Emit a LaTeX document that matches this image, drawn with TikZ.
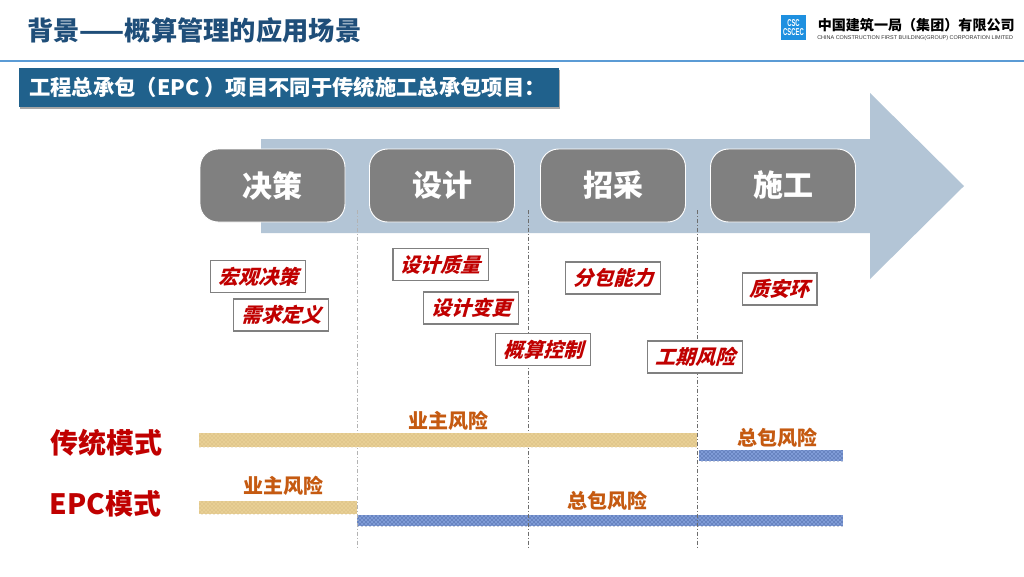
\documentclass[tikz,border=0pt]{standalone}
\usepackage{fontspec}
\usetikzlibrary{patterns}
\setmainfont{Noto Sans CJK SC}
\newfontfamily\cjksl{Noto Sans CJK SC}[FakeSlant=0.28]
\newfontfamily\latinfont{Liberation Sans}
\definecolor{titleblue}{HTML}{1F4E79}
\definecolor{bannerblue}{HTML}{20618C}
\definecolor{headerline}{HTML}{5B9BD5}
\definecolor{arrowblue}{HTML}{B3C5D6}
\definecolor{stagegray}{HTML}{808080}
\definecolor{redtxt}{HTML}{C00000}
\definecolor{risktxt}{HTML}{C55A11}
\definecolor{tanfill}{HTML}{E8CF94}
\definecolor{tandark}{HTML}{CDAE72}
\definecolor{jeanfill}{HTML}{7F9BD6}
\definecolor{jeandark}{HTML}{1F3A78}
\definecolor{logoblue}{HTML}{1E90E0}
\tikzset{
  x=0.75pt,y=-0.75pt,
  stagebox/.style={draw=white,line width=0.7pt,fill=stagegray,rounded corners=13.5pt,minimum width=108.75pt,minimum height=54.75pt,inner sep=0pt,text=white,font=\fontsize{22.5}{24}\selectfont\bfseries},
  tagbox/.style={draw=stagegray,line width=1pt,fill=white,minimum width=71.5pt,minimum height=24pt,inner sep=0pt,text=redtxt,font=\cjksl\fontsize{15}{17}\selectfont\bfseries},
  risklabel/.style={text=risktxt,inner sep=0pt,font=\fontsize{15}{17}\selectfont\bfseries},
  modelabel/.style={text=redtxt,inner sep=0pt,font=\fontsize{21}{23}\selectfont\bfseries},
  divider/.style={line width=0.7pt,dash pattern=on 3pt off 1.5pt on 0.7pt off 1.5pt},
  tanbar/.style={fill=tanfill,postaction={pattern=crosshatch dots,pattern color=tandark}},
  jeanbar/.style={fill=jeanfill,postaction={pattern=crosshatch dots,pattern color=jeandark}},
}
\begin{document}
\begin{tikzpicture}
\useasboundingbox (0,0) rectangle (1024,576);
\fill[white] (0,0) rectangle (1024,576);
% header
\node[anchor=west,inner sep=0pt,text=titleblue,font=\fontsize{19.7}{21}\selectfont\bfseries] (title) at (27,30) {背景——概算管理的应用场景};
\draw[headerline,line width=0.9pt] (0,61) -- (1024,61);
% logo
\fill[logoblue] (781,15) rectangle (806,40);
\node[inner sep=0pt,text=white,align=center,font=\latinfont\bfseries\fontsize{4.4}{7.4}\selectfont] (logo) at (793.5,27.5) {\scalebox{1}[1.7]{CSC}\\\scalebox{1}[1.7]{CSCEC}};
\node[anchor=west,inner sep=0pt,text=black,font=\fontsize{10.55}{12}\selectfont\bfseries] (company) at (817.5,25) {中国建筑一局（集团）有限公司};
\node[anchor=west,inner sep=0pt,text=black!80,font=\latinfont\fontsize{4.1}{5}\selectfont] (companyen) at (817,38) {CHINA CONSTRUCTION FIRST BUILDING(GROUP) CORPORATION LIMITED};
% banner
\fill[black!35] (20,69.5) rectangle (560,108.5);
\fill[bannerblue] (19,68) rectangle (559,107);
\node[anchor=west,inner sep=0pt,text=white,font=\fontsize{16}{18}\selectfont\bfseries] (bannertext) at (29,87) {工程总承包（EPC ）项目不同于传统施工总承包项目：};
% big arrow
\fill[arrowblue] (261,139) -- (870,139) -- (870,93) -- (964,186) -- (870,279) -- (870,233) -- (261,233) -- cycle;
% stages
\node[stagebox] (s1) at (272.5,185.5) {决策};
\node[stagebox] (s2) at (442,185.5) {设计};
\node[stagebox] (s3) at (613,185.5) {招采};
\node[stagebox] (s4) at (783,185.5) {施工};
% blue risk bars lie under the dividers
\fill[jeanbar] (699,450) rectangle (843,461);
\fill[jeanbar] (357,515) rectangle (843,526);
% dividers
\coordinate (d1a) at (357,210); \coordinate (d1b) at (357,547);
\coordinate (d2a) at (528,210); \coordinate (d2b) at (528,547);
\coordinate (d3a) at (697,210); \coordinate (d3b) at (697,547);
\draw[divider,stagegray!60] (d1a) -- (d1b);
\draw[divider,stagegray!85!black] (d2a) -- (d2b);
\draw[divider,stagegray!85!black] (d3a) -- (d3b);
% tan risk bars lie over them
\fill[tanbar] (199,433) rectangle (697,447);
\fill[tanbar] (199,501) rectangle (357,514);
% tags
\node[tagbox] (t1) at (258,276.5) {宏观决策};
\node[tagbox] (t2) at (281,315) {需求定义};
\node[tagbox] (t3) at (440.5,264.5) {设计质量};
\node[tagbox] (t4) at (471,308) {设计变更};
\node[tagbox] (t5) at (543,349.5) {概算控制};
\node[tagbox] (t6) at (613,278) {分包能力};
\node[tagbox] (t7) at (695,357) {工期风险};
\node[tagbox,minimum width=56pt] (t8) at (779.5,289) {质安环};
% labels
\node[risklabel] (r1) at (448,421) {业主风险};
\node[risklabel] (r2) at (777,438) {总包风险};
\node[risklabel] (r3) at (283,486) {业主风险};
\node[risklabel] (r4) at (607,501) {总包风险};
\node[modelabel] (m1) at (106.5,443) {传统模式};
\node[modelabel] (m2) at (105.5,504) {EPC模式};
\end{tikzpicture}
\end{document}
